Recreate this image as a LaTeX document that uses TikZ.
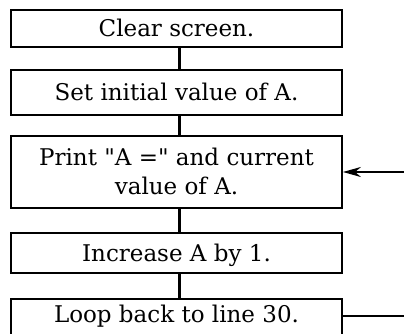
\documentclass[tikz,border=0pt]{standalone}
\usepackage{fontspec}
\setmainfont{DejaVu Serif}
\usetikzlibrary{arrows.meta}
\font\quotefnt="DejaVu Serif" at 23pt
\newcommand{\dq}{{\quotefnt\char34\relax}}
\begin{document}
\begin{tikzpicture}[x=1pt,y=-1pt,
  box/.style={draw, line width=1.8pt, minimum width=331pt, inner sep=0pt,
    text height=16.8pt, text depth=0pt, font=\fontsize{23}{29}\selectfont, align=center},
  link/.style={line width=2.6pt},
  back/.style={line width=2.2pt}]
\useasboundingbox (0,0) rectangle (404,334);
\clip (0,0) rectangle (404,334);
\fill[white] (0,0) rectangle (404,334);
\node[box, minimum height=37.5pt] (b1) at (176.5,28.5) {Clear screen.};
\node[box, minimum height=45pt] (b2) at (176.5,92.5) {Set initial value of A.};
\node[box, minimum height=72pt, text height=45.8pt] (b3) at (176.5,172) {Print \dq A =\dq{} and current\\value of A.};
\node[box, minimum height=40pt] (b4) at (176.5,253) {Increase A by 1.};
\node[box, minimum height=48pt, text depth=18pt, anchor=north] (b5) at (176.5,298) {Loop back to line 30.};
\draw[link] ([xshift=3pt]b1.south) -- ([xshift=3pt]b2.north);
\draw[link] ([xshift=3pt]b2.south) -- ([xshift=3pt]b3.north);
\draw[link] ([xshift=3pt]b3.south) -- ([xshift=3pt]b4.north);
\draw[link] ([xshift=3pt]b4.south) -- ([xshift=3pt]b5.north);
\coordinate (in) at (404,172);
\coordinate (out) at (404,316);
\draw[back, -{Stealth[length=18pt,width=10pt]}] (in) -- (b3.east |- in);
\draw[back] (b5.east |- out) -- (out);
\end{tikzpicture}
\end{document}
